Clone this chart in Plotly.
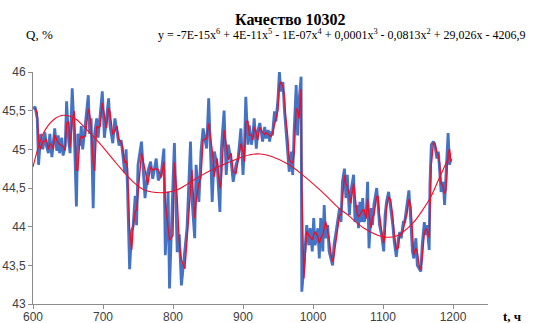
import plotly.graph_objects as go
import pandas as pd

hours = [600,603,606,608,611,614,617,619,622,624,627,629,631,634,636,638,641,643,646,648,
         651,653,656,659,662,664,667,669,671,675,679,681,683,686,688,691,693,696,699,702,
         705,708,710,714,717,720,723,726,728,731,733,735,738,741,743,746,748,750,755,760,
         764,768,771,776,779,783,787,789,793,795,800,802,806,809,812,817,820,825,827,831,
         833,837,840,843,848,851,856,859,863,867,869,873,876,879,883,886,890,893,897,900,
         902,904,907,909,912,914,916,919,921,924,928,931,933,936,938,940,942,945,947,950,
         952,954,957,959,961,964,966,969,971,973,976,978,980,983,984,987,989,991,994,996,
         999,1001,1003,1007,1009,1011,1014,1016,1018,1021,1023,1026,1028,1030,1033,1035,1038,1040,1042,1045,
         1047,1049,1052,1054,1058,1060,1063,1065,1067,1069,1071,1073,1076,1078,1080,1083,1085,1087,1091,1093,
         1095,1098,1101,1103,1105,1108,1111,1114,1116,1119,1122,1124,1126,1129,1131,1134,1137,1140,1142,1144,
         1147,1149,1152,1154,1156,1159,1161,1163,1166,1167,1169,1172,1174,1177,1179,1181,1183,1186,1188,1190,
         1193,1195,1197]

quality = [45.52,45.55,45.40,44.80,45.20,45.00,45.22,45.05,44.95,45.20,44.90,45.10,45.27,44.98,45.18,44.95,45.15,44.92,45.05,45.62,
           45.10,44.95,45.79,45.20,44.26,45.20,45.05,45.30,45.00,45.35,45.70,45.20,45.40,44.24,45.20,45.40,45.15,45.45,45.75,45.15,
           45.40,45.66,45.30,45.08,45.40,45.20,45.05,45.12,44.95,44.70,45.00,44.50,43.45,43.95,44.00,44.40,44.02,44.80,45.10,44.37,
           44.71,44.84,44.62,44.88,44.60,44.67,45.01,43.63,44.45,43.20,44.58,45.08,43.67,43.90,43.24,43.67,43.98,45.10,44.37,43.85,
           44.80,44.32,44.97,45.27,45.01,45.66,44.32,44.97,44.80,44.19,45.00,45.50,44.67,45.06,44.84,44.58,44.80,44.88,45.27,44.67,
           45.01,45.68,45.06,45.31,45.06,45.18,45.40,45.01,45.23,45.34,45.10,45.29,45.14,45.25,45.10,45.23,45.18,45.49,45.36,45.66,
           46.00,45.75,45.87,45.53,45.31,45.01,44.71,44.97,44.67,45.23,45.83,45.18,45.62,45.94,43.16,43.50,43.85,44.02,43.76,43.98,
           43.68,44.11,43.76,43.98,43.59,44.11,43.68,44.28,43.85,44.02,43.68,43.59,43.50,43.76,43.93,44.06,44.24,44.06,44.58,44.75,
           44.37,44.67,44.15,44.45,44.67,44.06,44.28,43.98,44.32,44.06,44.37,44.06,44.15,44.58,43.72,44.24,44.02,44.28,44.50,44.28,
           44.02,43.89,43.68,44.15,44.32,44.45,44.24,44.02,43.81,43.61,43.85,43.93,43.85,44.06,44.06,44.24,44.47,44.02,43.68,43.59,
           43.85,43.50,43.46,43.42,43.76,44.06,43.89,44.02,43.70,44.54,45.06,45.10,45.06,44.88,44.97,44.67,44.45,44.58,44.28,44.67,
           45.21,44.80,44.88]

trend_hours = [600,615,629,643,660,671,695,719,743,760,788,807,822,840,864,887,910,925,940,966,
               985,1013,1037,1050,1073,1100,1119,1142,1157,1168,1180,1190,1197]
trend_values = [44.77,45.21,45.38,45.44,45.40,45.31,45.08,44.82,44.58,44.47,44.44,44.48,44.56,44.66,44.77,44.86,44.93,44.94,44.91,44.80,
                44.67,44.45,44.24,44.15,43.98,43.87,43.88,44.04,44.22,44.38,44.62,44.82,44.95]

x_ticks = [600, 700, 800, 900, 1000, 1100, 1200]
y_ticks = [43, 43.5, 44, 44.5, 45, 45.5, 46]

title_text = "Качество 10302"
equation = ("y = -7E-15x<sup>6</sup> + 4E-11x<sup>5</sup> - 1E-07x<sup>4</sup> + 0,0001x<sup>3</sup>"
            " - 0,0813x<sup>2</sup> + 29,026x - 4206,9")

moving_avg = pd.Series(quality).rolling(2).mean()

W, H = 557, 323
ML, MR, MT, MB = 33, 69, 72, 19

fig = go.Figure()
fig.add_trace(go.Scatter(x=hours, y=quality, mode="lines",
                         line=dict(color="#4472C4", width=2.8), showlegend=False))
fig.add_trace(go.Scatter(x=hours, y=moving_avg, mode="lines",
                         line=dict(color="#E8112D", width=1.4), showlegend=False))
fig.add_trace(go.Scatter(x=trend_hours, y=trend_values, mode="lines", line_shape="spline",
                         line=dict(color="#E8112D", width=1.1), showlegend=False))

axis_common = dict(showgrid=False, zeroline=False, showline=True, linecolor="#8C8C8C", linewidth=1,
                   ticks="outside", ticklen=4, tickcolor="#8C8C8C", automargin=False,
                   tickfont=dict(family="Liberation Sans, Arial, sans-serif", size=12, color="#404040"))


def pxpos(px, py):
    return (px - ML) / (W - ML - MR), 1 - (py - MT) / (H - MT - MB)


serif = "Liberation Serif, Times New Roman, serif"
texts = [
    ("<b>" + title_text + "</b>", 290, 19, 16),
    ("Q, %", 39, 35, 13),
    (equation, 342, 35, 12),
    ("<b>t, ч</b>", 512, 316, 13),
]
annotations = []
for t, px, py, sz in texts:
    ax, ay = pxpos(px, py)
    annotations.append(dict(text=t, x=ax, y=ay, xref="paper", yref="paper", showarrow=False,
                            xanchor="center", yanchor="middle",
                            font=dict(family=serif, size=sz, color="black")))

fig.update_layout(
    width=W, height=H,
    margin=dict(l=ML, r=MR, t=MT, b=MB, autoexpand=False),
    paper_bgcolor="white", plot_bgcolor="white",
    separators=", ",
    xaxis=dict(range=[600, 1250], tickvals=x_ticks, ticklabelstandoff=-2, **axis_common),
    yaxis=dict(range=[43, 46], tickvals=y_ticks, **axis_common),
    annotations=annotations,
)

fig.write_html("out.html", config={"displayModeBar": False},
               post_script="document.body.style.margin='0';")
